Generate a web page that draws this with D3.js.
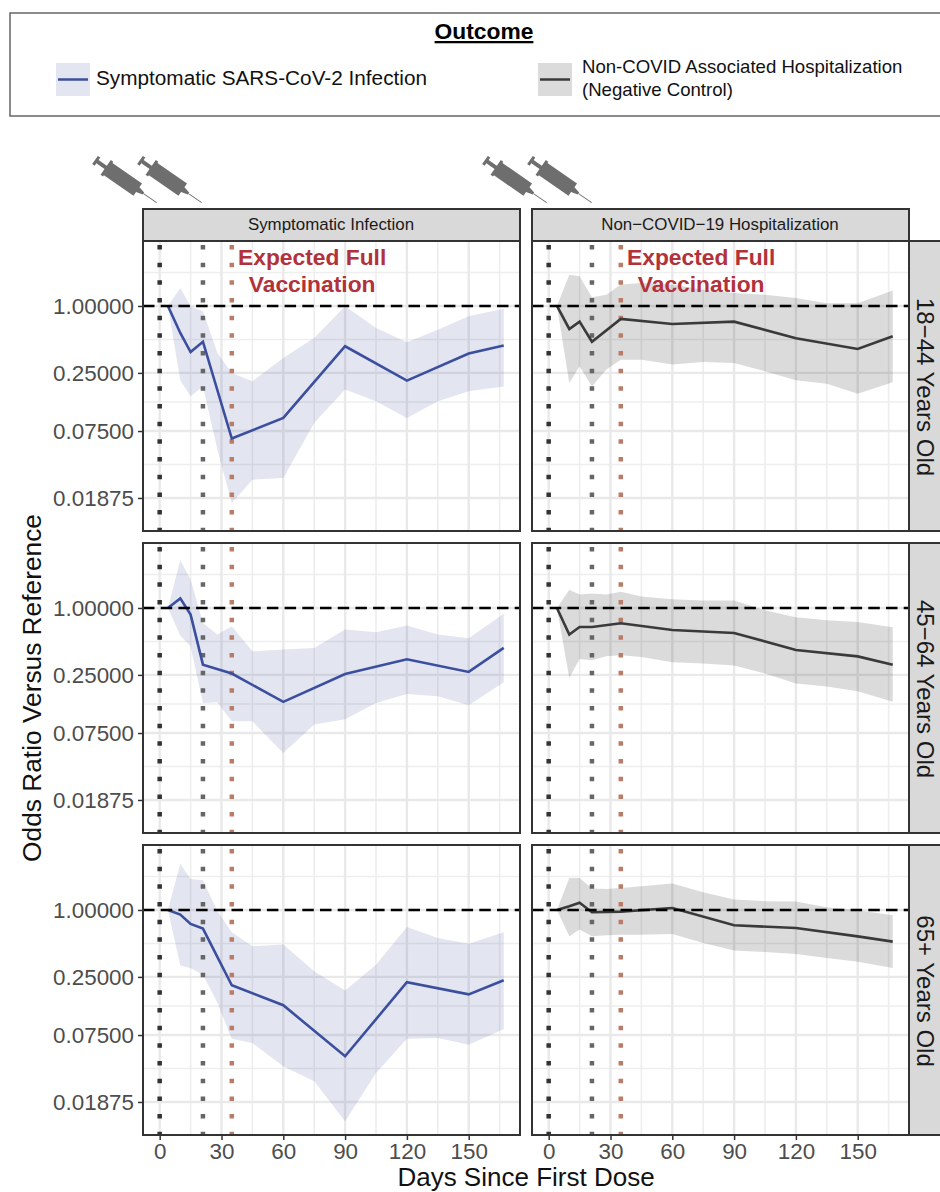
<!DOCTYPE html>
<html lang="en">
<head>
  <meta charset="UTF-8" />
  <title>Odds ratio by days since first dose</title>
  <script src="https://d3js.org/d3.v7.min.js"></script>
  <style>
    html, body { margin: 0; padding: 0; background: #fff; overflow: hidden; }
    svg { display: block; font-family: "Liberation Sans", Arimo, sans-serif; }
    .tick text { fill: #4d4d4d; font-size: 22.4px; }
    .tick line { stroke: #333; stroke-width: 1.5px; }
    .domain { display: none; }
    .grid-major { stroke: #e9e9e9; stroke-width: 2.4px; }
    .grid-minor { stroke: #eeeeee; stroke-width: 1.6px; }
  </style>
</head>
<body>
  <svg width="940" height="1192"></svg>
  <script>
    const outcomes = ["Symptomatic Infection", "Non\u2212COVID\u221219 Hospitalization"];
    const ageGroups = ["18\u221244 Years Old", "45\u221264 Years Old", "65+ Years Old"];
    const xTicks = [0, 30, 60, 90, 120, 150];
    const xMinor = [15, 45, 75, 105, 135, 165];
    const yTicks = [1, 0.25, 0.075, 0.01875];
    const yMinor = [2, 0.5, 0.137, 0.0375];
    const doseDays = [0, 21, 35];

    const lineDays = [4, 10, 15, 21, 35, 60, 90, 120, 150, 167];
    const bandDays = [4, 10, 15, 21, 28, 35, 45, 60, 75, 90, 105, 120, 135, 150, 167];

    // symptomatic infection
    const symLine1844 = [1, .572, .385, .477, .0642, .0984, .434, .213, .373, .440];
    const symHigh1844 = [1, 1.45, .993, .895, .378, .250, .210, .340, .515, .993, .634, .471, .612, .807, .946];
    const symLow1844 = [1, .215, .154, .189, .0511, .0169, .0274, .0284, .0887, .177, .139, .0984, .139, .171, .189];
    const symLine4564 = [1, 1.22, .871, .309, .257, .143, .255, .345, .266, .437];
    const symHigh4564 = [1, 2.68, 1.80, .733, .576, .684, .408, .422, .437, .639, .604, .694, .576, .533, .889];
    const symLow4564 = [1, .564, .452, .140, .142, .0957, .0957, .0497, .0894, .100, .140, .168, .161, .133, .215];
    const symLine65 = [1, .908, .748, .679, .210, .139, .0483, .224, .174, .233];
    const symHigh65 = [1, 2.61, 1.90, 1.85, .973, .630, .471, .488, .281, .189, .322, .703, .560, .498, .630];
    const symLow65 = [1, .316, .301, .262, .146, .0695, .0637, .0393, .0288, .0126, .0342, .0695, .0706, .0614, .0850];

    // negative control
    const negLine1844 = [1, .621, .723, .477, .764, .689, .723, .512, .410, .533];
    const negHigh1844 = [1, 1.91, 1.85, 1.20, 1.26, 1.56, 1.61, 1.56, 1.40, 1.31, 1.26, 1.18, 1.06, 1.06, 1.38];
    const negLow1844 = [1, .203, .287, .189, .268, .329, .329, .297, .314, .307, .259, .215, .200, .162, .206];
    const negLine4564 = [1, .576, .675, .675, .728, .634, .596, .419, .367, .309];
    const negHigh4564 = [1, 1.46, 1.32, 1.35, 1.32, 1.40, 1.27, 1.20, 1.17, 1.17, .953, .824, .774, .748, .670];
    const negLow4564 = [1, .235, .348, .338, .367, .375, .362, .325, .316, .303, .257, .209, .197, .178, .143];
    const negLine65 = [1, 1.08, 1.16, .953, .966, 1.04, .728, .689, .579, .519];
    const negHigh65 = [1, 1.94, 1.94, 1.56, 1.54, 1.58, 1.63, 1.73, 1.44, 1.24, 1.20, 1.19, 1.06, .993, .895];
    const negLow65 = [1, .579, .666, .579, .592, .600, .600, .608, .505, .431, .419, .402, .370, .343, .301];

    const panels = [
      { col: 0, row: 0, line: symLine1844, high: symHigh1844, low: symLow1844 },
      { col: 1, row: 0, line: negLine1844, high: negHigh1844, low: negLow1844 },
      { col: 0, row: 1, line: symLine4564, high: symHigh4564, low: symLow4564 },
      { col: 1, row: 1, line: negLine4564, high: negHigh4564, low: negLow4564 },
      { col: 0, row: 2, line: symLine65, high: symHigh65, low: symLow65 },
      { col: 1, row: 2, line: negLine65, high: negHigh65, low: negLow65 }
    ];

    const colLeft = [143, 532];
    const rowTop = [241, 543, 845];
    const panelW = 377, panelH = 290;
    const lineColor = ["#3b4f9e", "#3a3a3a"];
    const bandColor = ["#3b4992", "#000000"];
    const bandAlpha = [0.14, 0.14];
    const doseColor = ["#333333", "#666666", "#b87c68"];

    const svg = d3.select("svg");

    const x = d3.scaleLinear().domain([-8.1, 174.9]).range([0, panelW]);
    const y = d3.scaleLog().base(2).domain([3.84, 0.00946]).range([0, panelH]);

    // legend
    const legend = svg.append("g");
    legend.append("rect").attr("x", 10).attr("y", 13).attr("width", 945).attr("height", 103)
      .attr("fill", "#fff").attr("stroke", "#666").attr("stroke-width", 1.5);
    legend.append("text").attr("x", 484).attr("y", 39).attr("text-anchor", "middle")
      .attr("font-size", 22.8).attr("font-weight", "bold").attr("text-decoration", "underline")
      .text("Outcome");
    [56, 538].forEach((kx, i) => {
      legend.append("rect").attr("x", kx).attr("y", 63).attr("width", 34).attr("height", 33)
        .attr("fill", bandColor[i]).attr("fill-opacity", bandAlpha[i]);
      legend.append("line").attr("x1", kx + 2).attr("x2", kx + 32).attr("y1", 79.5).attr("y2", 79.5)
        .attr("stroke", lineColor[i]).attr("stroke-width", 2.5);
    });
    legend.append("text").attr("x", 96).attr("y", 85).attr("font-size", 20.75)
      .attr("fill", "#111").text("Symptomatic SARS-CoV-2 Infection");
    legend.append("text").attr("x", 582).attr("y", 73).attr("font-size", 18.6)
      .attr("fill", "#111").text("Non-COVID Associated Hospitalization");
    legend.append("text").attr("x", 582).attr("y", 96).attr("font-size", 18.6)
      .attr("fill", "#111").text("(Negative Control)");

    // syringes above the two facets
    const syringe = "M0,-5L3,-5L3,-2L13,-2L13,-9L16,-9L16,-7.5L52,-7.5L52,-3L59,-1.2L59,1.2L52,3L52,7.5L16,7.5L16,9L13,9L13,2L3,2L3,5L0,5Z";
    [95, 140, 485, 530].forEach(sx => {
      const s = svg.append("g").attr("transform", `translate(${sx},160) rotate(34.7)`);
      s.append("path").attr("d", syringe).attr("fill", "#6e6e6e");
      s.append("line").attr("x1", 59).attr("x2", 75).attr("y1", 0).attr("y2", 0)
        .attr("stroke", "#777").attr("stroke-width", 1);
    });

    // facet strips
    outcomes.forEach((name, c) => {
      svg.append("rect").attr("x", colLeft[c]).attr("y", 209).attr("width", panelW).attr("height", 32)
        .attr("fill", "#d9d9d9").attr("stroke", "#333").attr("stroke-width", 2);
      svg.append("text").attr("x", colLeft[c] + panelW / 2 - 0.5).attr("y", 230)
        .attr("text-anchor", "middle").attr("font-size", 16.9).attr("fill", "#1a1a1a").text(name);
    });
    ageGroups.forEach((name, r) => {
      svg.append("rect").attr("x", colLeft[1] + panelW).attr("y", rowTop[r]).attr("width", 50).attr("height", panelH)
        .attr("fill", "#d9d9d9").attr("stroke", "#333").attr("stroke-width", 2);
      svg.append("text")
        .attr("transform", `translate(${colLeft[1] + panelW + 16},${rowTop[r] + panelH / 2 + 1}) rotate(90)`)
        .attr("text-anchor", "middle").attr("dominant-baseline", "central")
        .attr("font-size", 24).attr("fill", "#1a1a1a").text(name);
    });

    const lineGen = d3.line().x(d => x(d.day)).y(d => y(d.value));
    const bandGen = d3.area().x(d => x(d.day)).y0(d => y(d.low)).y1(d => y(d.high));

    panels.forEach(p => {
      const g = svg.append("g").attr("transform", `translate(${colLeft[p.col]},${rowTop[p.row]})`);

      g.append("rect").attr("width", panelW).attr("height", panelH).attr("fill", "#fff");

      g.selectAll("line.grid-minor-y").data(yMinor).enter().append("line")
        .attr("class", "grid-minor").attr("x2", panelW).attr("y1", d => y(d)).attr("y2", d => y(d));
      g.selectAll("line.grid-minor-x").data(xMinor).enter().append("line")
        .attr("class", "grid-minor").attr("y2", panelH).attr("x1", d => x(d)).attr("x2", d => x(d));
      g.selectAll("line.grid-major-y").data(yTicks).enter().append("line")
        .attr("class", "grid-major").attr("x2", panelW).attr("y1", d => y(d)).attr("y2", d => y(d));
      g.selectAll("line.grid-major-x").data(xTicks).enter().append("line")
        .attr("class", "grid-major").attr("y2", panelH).attr("x1", d => x(d)).attr("x2", d => x(d));

      const band = bandDays.map((day, i) => ({ day, low: p.low[i], high: p.high[i] }));
      g.append("path").attr("d", bandGen(band))
        .attr("fill", bandColor[p.col]).attr("fill-opacity", bandAlpha[p.col]);

      g.selectAll("line.dose").data(doseDays).enter().append("line")
        .attr("x1", d => x(d)).attr("x2", d => x(d)).attr("y1", 0).attr("y2", panelH)
        .attr("stroke", (d, i) => doseColor[i]).attr("stroke-width", 4.5)
        .attr("stroke-dasharray", "4.5 13.17").attr("stroke-dashoffset", -4);

      const series = lineDays.map((day, i) => ({ day, value: p.line[i] }));
      g.append("path").attr("d", lineGen(series)).attr("fill", "none")
        .attr("stroke", lineColor[p.col]).attr("stroke-width", 2.6).attr("stroke-linejoin", "miter");

      g.append("line").attr("x2", panelW).attr("y1", y(1)).attr("y2", y(1))
        .attr("stroke", "#000").attr("stroke-width", 2.6).attr("stroke-dasharray", "11.5 6.2");

      g.append("rect").attr("width", panelW).attr("height", panelH)
        .attr("fill", "none").attr("stroke", "#333").attr("stroke-width", 2);

      if (p.col === 0) {
        g.append("g")
          .call(d3.axisLeft(y).tickValues(yTicks).tickFormat(d3.format(".5f")).tickSize(5).tickPadding(4));
      }
      if (p.row === 2) {
        g.append("g").attr("transform", `translate(0,${panelH})`)
          .call(d3.axisBottom(x).tickValues(xTicks).tickFormat(d3.format("d")).tickSize(5).tickPadding(3));
      }
      if (p.row === 0) {
        const label = g.append("g").attr("text-anchor", "middle").attr("font-weight", "bold")
          .attr("font-size", 22.8).attr("fill", "#b2313a");
        label.append("text").attr("x", x(74)).attr("y", 24).text("Expected Full");
        label.append("text").attr("x", x(74)).attr("y", 51).text("Vaccination");
      }
    });

    svg.append("text").attr("x", 526).attr("y", 1186).attr("text-anchor", "middle")
      .attr("font-size", 26).attr("fill", "#111").text("Days Since First Dose");
    svg.append("text").attr("transform", "translate(41,688) rotate(-90)").attr("text-anchor", "middle")
      .attr("font-size", 26.3).attr("fill", "#111").text("Odds Ratio Versus Reference");
  </script>
</body>
</html>
